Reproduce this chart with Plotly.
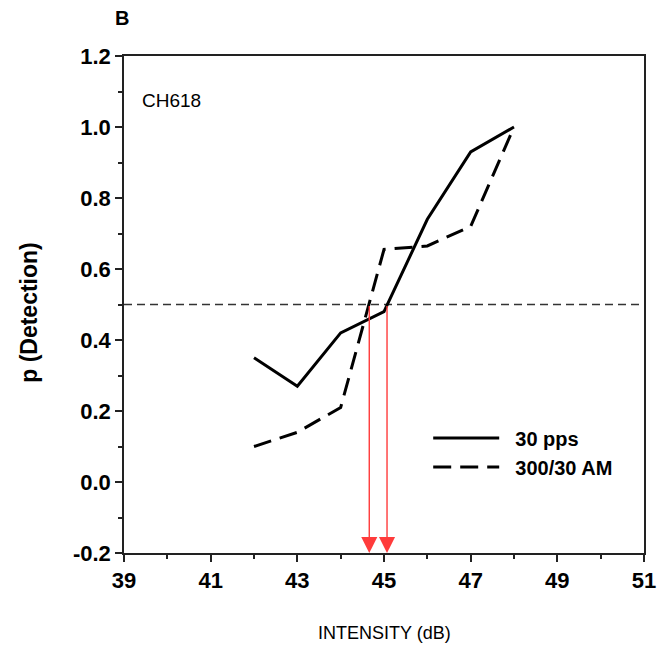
import plotly.graph_objects as go

intensity = [42, 43, 44, 45, 46, 47, 48]
p_30pps = [0.35, 0.27, 0.42, 0.48, 0.74, 0.93, 1.0]
p_am = [0.10, 0.14, 0.21, 0.655, 0.665, 0.72, 1.0]
criterion = 0.5
thresholds = [44.66, 45.07]
x_ticks = [39, 41, 43, 45, 47, 49, 51]
y_ticks = [-0.2, 0.0, 0.2, 0.4, 0.6, 0.8, 1.0, 1.2]

FONT = "Liberation Sans, Arial, sans-serif"

fig = go.Figure()

fig.add_trace(go.Scatter(
    x=[39, 51], y=[criterion, criterion], mode="lines",
    line=dict(color="#333333", width=1.3, dash="8px,5px"),
    showlegend=False, hoverinfo="skip"))

fig.add_trace(go.Scatter(
    x=intensity, y=p_30pps, mode="lines", name="&nbsp;&nbsp;30 pps",
    line=dict(color="black", width=3)))
fig.add_trace(go.Scatter(
    x=intensity, y=p_am, mode="lines", name="&nbsp;&nbsp;300/30 AM",
    line=dict(color="black", width=3, dash="18px,9px")))

for t in thresholds:
    fig.add_annotation(
        x=t, y=-0.2, ax=t, ay=criterion, xref="x", yref="y",
        axref="x", ayref="y", text="", showarrow=True,
        arrowhead=2, arrowsize=2.3, arrowwidth=1.4, arrowcolor="#ff3b3b",
        standoff=0)

fig.add_annotation(x=0.031, y=0.91, xref="paper", yref="paper",
                   text="CH618", showarrow=False, xanchor="left", yanchor="middle",
                   font=dict(family=FONT, size=19, color="black"))
fig.add_annotation(x=-0.004, y=1.077, xref="paper", yref="paper", text="<b>B</b>",
                   showarrow=False, xanchor="center", yanchor="middle",
                   font=dict(family=FONT, size=20, color="black"))
# axis titles
fig.add_annotation(x=0.5, y=-0.161, xref="paper", yref="paper",
                   text="INTENSITY (dB)", showarrow=False,
                   xanchor="center", yanchor="middle",
                   font=dict(family=FONT, size=18, color="black"))
fig.add_annotation(x=-0.183, y=0.485, xref="paper", yref="paper",
                   text="<b>p (Detection)</b>", showarrow=False, textangle=-90,
                   xanchor="center", yanchor="middle",
                   font=dict(family=FONT, size=23, color="black"))

axis_common = dict(showgrid=False, zeroline=False, showline=True,
                   linecolor="#222222", linewidth=1.5, mirror=True,
                   ticks="outside", tickcolor="#222222", tickwidth=1.5,
                   ticklen=7, automargin=False,
                   tickfont=dict(family=FONT, size=22, color="black", weight="bold"))

fig.update_xaxes(range=[39, 51], tickvals=x_ticks, ticktext=[str(v) for v in x_ticks],
                 minor=dict(dtick=1, tick0=39, ticks="outside", ticklen=4,
                            tickcolor="#222222", tickwidth=1.5),
                 **axis_common)
fig.update_yaxes(range=[-0.2, 1.2], tickvals=y_ticks,
                 ticktext=[f"{v:.1f}" for v in y_ticks],
                 minor=dict(dtick=0.1, tick0=0, ticks="outside", ticklen=4,
                            tickcolor="#222222", tickwidth=1.5),
                 **axis_common)

fig.update_layout(
    width=658, height=645,
    margin=dict(l=124, r=14, t=56, b=92),
    paper_bgcolor="white", plot_bgcolor="white",
    legend=dict(x=0.585, y=0.202, xanchor="left", yanchor="middle",
                bgcolor="rgba(0,0,0,0)", itemwidth=66, tracegroupgap=0,
                font=dict(family=FONT, size=20, color="black", weight="bold")),
)

fig.write_html("out.html")
